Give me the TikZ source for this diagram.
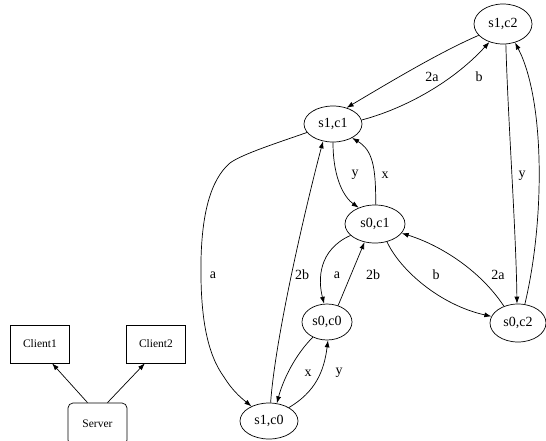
\documentclass[tikz,border=0pt]{standalone}
\usepackage{fontspec}
\setmainfont{Liberation Serif}
\usetikzlibrary{shapes.geometric,arrows.meta}
\begin{document}
\begin{tikzpicture}[x=1pt,y=-1pt,
  st/.style={ellipse,draw,line width=0.7pt,inner sep=0pt,font=\fontsize{14}{16}\selectfont},
  bx/.style={rectangle,draw,line width=0.7pt,inner sep=0pt,minimum width=59pt,minimum height=38pt,font=\fontsize{11.5}{13}\selectfont},
  edge/.style={draw,line width=0.7pt,-{Latex[length=7pt,width=5pt]}},
  lbl/.style={inner sep=0pt,font=\fontsize{14}{16}\selectfont}]
\useasboundingbox (0,0) rectangle (546,440);
% states
\node[st,minimum width=58pt,minimum height=40pt] (s12) at (503,24) {s1,c2};
\node[st,minimum width=58pt,minimum height=36pt] (s11) at (333,124) {s1,c1};
\node[st,minimum width=60pt,minimum height=38pt] (s01) at (375,224) {s0,c1};
\node[st,minimum width=50pt,minimum height=36pt] (s00) at (327,322) {s0,c0};
\node[st,minimum width=56pt,minimum height=38pt] (s02) at (518,323) {s0,c2};
\node[st,minimum width=58pt,minimum height=36pt] (s10) at (269,421) {s1,c0};
% boxes
\node[bx] (c1) at (40,344) {Client1};
\node[bx] (c2) at (156,344) {Client2};
\node[bx,rounded corners=5pt,minimum height=42pt] (srv) at (97.5,424) {Server};
\path[edge] (srv.115) -- (c1.302);
\path[edge] (srv.65) -- (c2.240);
% edges
\path[edge] (s12.205) .. controls (440,52) and (390,82) .. (s11.50);
\path[edge] (s11.8) .. controls (400,110) and (450,85) .. (s12.233);
\path[edge] (s12.278) .. controls (508,120) and (516,230) .. (s02.93);
\path[edge] (s02.70) .. controls (545,220) and (545,100) .. (s12.303);
\path[edge] (s11.270) .. controls (333,180) and (345,198) .. (s01.135);
\path[edge] (s01.88) .. controls (376,165) and (372,150) .. (s11.324);
\path[edge] (s11.198) .. controls (280,142) and (242,154) .. (230,163)
  .. controls (210,180) and (202,215) .. (201,260)
  .. controls (200,320) and (208,355) .. (224,377)
  .. controls (232,390) and (240,397) .. (s10.140);
\path[edge] (s10.85) .. controls (276,330) and (310,190) .. (s11.240);
\path[edge] (s01.205) .. controls (318,250) and (318,280) .. (s00.99);
\path[edge] (s00.56) -- (s01.240);
\path[edge] (s01.304) .. controls (400,270) and (440,305) .. (s02.166);
\path[edge] (s02.130) .. controls (480,270) and (440,245) .. (s01.341);
\path[edge] (s00.227) .. controls (295,355) and (283,380) .. (s10.66);
\path[edge] (s10.34) .. controls (315,392) and (324,372) .. (s00.273);
% labels
\node[lbl] (l1) at (432,77) {2a};
\node[lbl] (l2) at (479,77) {b};
\node[lbl] (l3) at (522,176) {y};
\node[lbl] (l4) at (355,175) {y};
\node[lbl] (l5) at (385,175) {x};
\node[lbl] (l6) at (213,275) {a};
\node[lbl] (l7) at (302,275) {2b};
\node[lbl] (l8) at (337,275) {a};
\node[lbl] (l9) at (373,275) {2b};
\node[lbl] (l10) at (436,275) {b};
\node[lbl] (l11) at (498,275) {2a};
\node[lbl] (l12) at (308,373) {x};
\node[lbl] (l13) at (339,373) {y};
\end{tikzpicture}
\end{document}
